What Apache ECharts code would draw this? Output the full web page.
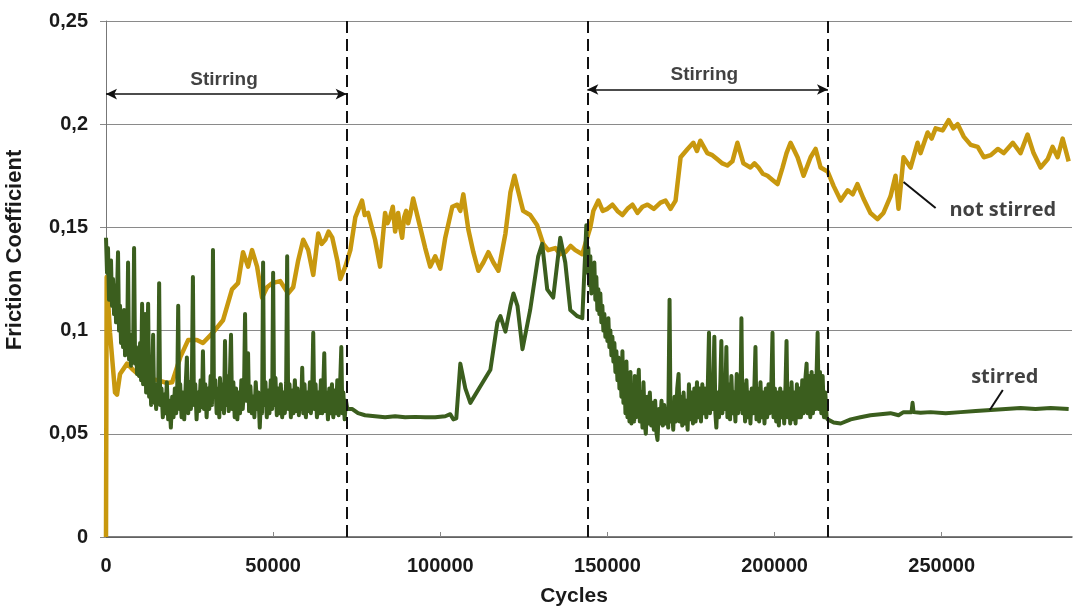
<!DOCTYPE html>
<html>
<head>
<meta charset="utf-8">
<script src="https://cdn.jsdelivr.net/npm/echarts@6/dist/echarts.min.js"></script>
<style>
html,body{margin:0;padding:0;background:#fff;}
#c{width:1074px;height:610px;}
</style>
</head>
<body>
<div id="c"></div>
<script>
// ---- data (cycles, friction coefficient) ----
const notStirred = [
[0,0],[200,0.126],[1200,0.099],[2700,0.070],[3300,0.069],[4200,0.079],[6300,0.084],[8100,0.081],
[10200,0.078],[12300,0.077],[15300,0.076],[18300,0.0746],[19800,0.075],[22200,0.087],[24600,0.0955],
[27200,0.0955],[29000,0.094],[32000,0.099],[35000,0.105],[37700,0.120],[39500,0.123],[41000,0.138],
[42500,0.131],[43700,0.139],[45200,0.131],[46700,0.116],[48200,0.121],[49700,0.123],[52100,0.124],
[54500,0.118],[56000,0.121],[57500,0.134],[59000,0.144],[60500,0.139],[62000,0.127],[63500,0.147],
[64500,0.142],[65600,0.144],[66600,0.148],[67700,0.145],[69200,0.134],[70100,0.125],[71600,0.131],[73100,0.139],[74600,0.155],
[75600,0.159],[76600,0.163],[77400,0.156],[78400,0.157],[80500,0.144],[82000,0.131],[83500,0.157],[84200,0.152],[85000,0.155],[85800,0.160],[86500,0.148],
[87400,0.157],[88000,0.150],[88600,0.145],[89200,0.155],[89800,0.158],[90400,0.152],[91000,0.156],[91900,0.164],[93400,0.154],[95500,0.140],
[97000,0.131],[98500,0.136],[100000,0.130],[101500,0.145],[103600,0.160],[105100,0.161],[106000,0.158],[106900,0.166],
[108400,0.149],[109900,0.138],[111400,0.129],[112900,0.133],[114400,0.138],[115900,0.133],[117400,0.129],
[119500,0.147],[121000,0.167],[122200,0.175],[123400,0.167],[124800,0.158],[126900,0.156],[129000,0.151],
[130800,0.142],[132300,0.139],[134400,0.140],[135900,0.137],[137400,0.138],[139000,0.141],[140400,0.139],[142500,0.137],[143400,0.142],
[144900,0.150],[145800,0.158],[147300,0.163],[148600,0.158],[150000,0.159],[151500,0.161],[153000,0.158],[154500,0.156],[156000,0.159],[157500,0.161],[159000,0.157],
[160500,0.160],[162000,0.161],[163900,0.159],[165900,0.162],[167400,0.163],[168900,0.159],[170400,0.163],[171900,0.184],[174000,0.188],[175700,0.191],
[176800,0.187],[177800,0.192],[179900,0.186],[181400,0.185],[182900,0.183],[184400,0.181],[185900,0.180],[187400,0.182],[188900,0.191],[190700,0.181],
[192800,0.179],[194000,0.181],[195200,0.179],[196500,0.176],[197900,0.175],[199400,0.173],[200900,0.171],[202400,0.179],[203600,0.186],[204800,0.191],[206900,0.184],
[208700,0.175],[210800,0.184],[212300,0.188],[213800,0.179],[215900,0.177],[217700,0.170],[219800,0.163],
[221900,0.168],[223400,0.166],[224800,0.171],[226600,0.164],[228700,0.157],[230800,0.154],[232600,0.157],[234700,0.165],
[236200,0.175],[237100,0.159],[238600,0.184],[240700,0.179],[242800,0.191],[243700,0.186],[245800,0.196],
[247000,0.193],[248200,0.198],[250300,0.197],[252100,0.202],[253500,0.198],[254800,0.200],[256600,0.194],[258700,0.190],[260800,0.189],
[262600,0.184],[264700,0.185],[266800,0.188],[268600,0.186],[271300,0.191],[273600,0.186],[275700,0.195],
[277500,0.186],[279600,0.179],[281700,0.183],[283200,0.189],[284700,0.184],[286200,0.193],[288000,0.182]
];
const stirred = [
[0,0.145],[300,0.128],[600,0.14],[900,0.115],[1200,0.13],[1500,0.134],[1800,0.112],[2100,0.125],[2400,0.108],
[2700,0.122],[3000,0.104],[3300,0.118],[3600,0.138],[3900,0.1],[4200,0.112],[4500,0.094],[4800,0.105],[5100,0.092],
[5400,0.11],[5700,0.088],[6000,0.1],[6300,0.09],[6600,0.133],[6900,0.086],[7200,0.098],[7500,0.083],[7800,0.097],
[8100,0.088],[8400,0.14],[8700,0.084],[9000,0.092],[9300,0.079],[9600,0.088],[9900,0.078],[10200,0.094],[10500,0.076],
[10800,0.113],[11100,0.074],[11400,0.085],[11700,0.108],[12000,0.07],[12300,0.082],[12600,0.113],[12900,0.068],
[13200,0.078],[13500,0.064],[13800,0.076],[14100,0.098],[14400,0.065],[14700,0.074],[15000,0.062],[15300,0.072],
[15600,0.066],[15900,0.123],[16200,0.064],
[16600,0.072],[17000,0.058],[17400,0.069],[17800,0.06],[18200,0.075],[18600,0.057],[19000,0.066],[19400,0.053],
[19800,0.068],[20200,0.058],[20600,0.072],[21000,0.06],[21300,0.07],[21600,0.112],[21900,0.062],[22200,0.074],
[22600,0.058],[23000,0.07],[23400,0.057],[23800,0.072],[24200,0.087],[24600,0.06],[25000,0.075],[25400,0.062],
[25700,0.078],[26000,0.126],[26300,0.064],[26700,0.074],[27100,0.057],[27500,0.07],[27900,0.061],[28300,0.076],
[28700,0.063],[29000,0.09],[29300,0.062],[29700,0.074],[30100,0.058],[30500,0.072],[30900,0.062],[31300,0.078],
[31700,0.064],[32000,0.139],[32300,0.068],[32700,0.076],[33100,0.06],[33500,0.072],[33900,0.058],[34100,0.077],
[34500,0.062],[34900,0.074],[35300,0.06],[35600,0.095],[35900,0.064],[36300,0.078],[36700,0.061],[37000,0.074],
[37400,0.098],[37700,0.062],[38100,0.075],[38500,0.058],[38900,0.072],[39300,0.057],[39700,0.07],[40100,0.06],
[40500,0.076],[40900,0.062],[41300,0.072],[41600,0.108],[41900,0.066],[42200,0.074],[42500,0.089],[42800,0.061],
[43200,0.073],[43600,0.06],[44000,0.068],[44400,0.058],[44800,0.075],[45200,0.062],[45600,0.07],[46000,0.053],
[46400,0.069],[46700,0.06],[47000,0.133],[47300,0.064],[47700,0.075],[48100,0.058],[48500,0.071],[48900,0.06],
[49300,0.076],[49700,0.062],[50000,0.128],[50300,0.064],[50700,0.077],[51100,0.059],[51500,0.072],[51900,0.06],
[52300,0.074],[52700,0.058],[53100,0.07],[53500,0.06],[53900,0.075],[54200,0.136],[54500,0.062],[54900,0.074],
[55300,0.058],[55700,0.071],[56100,0.06],[56500,0.076],[56900,0.061],[57300,0.072],[57700,0.059],[58000,0.07],
[58400,0.062],[58700,0.082],[59000,0.06],[59400,0.074],[59800,0.058],[60200,0.07],[60600,0.061],[61000,0.075],
[61300,0.06],[61700,0.072],[62000,0.099],[62300,0.062],[62700,0.074],[63100,0.058],[63500,0.07],[63900,0.06],
[64300,0.076],[64700,0.06],[65000,0.072],[65300,0.089],[65600,0.061],[66000,0.07],[66400,0.057],[66800,0.072],
[67200,0.06],[67600,0.074],[68000,0.058],[68400,0.071],[68800,0.06],[69200,0.076],[69600,0.059],[70000,0.072],
[70400,0.092],[70700,0.06],[71000,0.07],[71400,0.057],[71800,0.066],[72200,0.062],
[73700,0.062],[75400,0.060],[77500,0.059],[80500,0.0585],[83500,0.058],[86500,0.0585],[89500,0.058],
[92500,0.0582],[95500,0.058],[98500,0.058],[101500,0.0585],[103000,0.0595],[103900,0.057],[104800,0.0575],
[106000,0.084],[107500,0.072],[109000,0.065],[112000,0.073],[115000,0.081],[117100,0.104],[118000,0.107],
[119500,0.0995],[121000,0.112],[121900,0.118],[123100,0.112],[124600,0.091],[126900,0.110],[129300,0.136],
[130500,0.142],[132000,0.120],[133800,0.116],[135900,0.145],[137400,0.133],[138900,0.110],[141000,0.107],
[142500,0.106],[143400,0.139],[143700,0.151],
[144000,0.128],[144300,0.14],[144600,0.122],[144900,0.136],[145200,0.118],[145500,0.13],[145800,0.121],[146100,0.133],
[146400,0.115],[146700,0.126],[147000,0.11],[147300,0.12],[147600,0.108],[147900,0.118],[148200,0.104],[148500,0.112],
[148800,0.1],[149100,0.108],[149400,0.097],[149700,0.105],[150000,0.095],[150300,0.106],[150600,0.092],[150900,0.1],
[151200,0.088],[151500,0.097],[151800,0.085],[152100,0.094],[152400,0.08],[152700,0.09],[153000,0.076],[153300,0.087],
[153600,0.072],[153900,0.084],[154200,0.068],[154500,0.09],[154800,0.065],[155100,0.08],[155400,0.06],[155700,0.085],
[156000,0.058],[156300,0.075],[156600,0.056],[156900,0.08],[157200,0.055],[157600,0.07],[158000,0.056],[158200,0.078],
[158600,0.058],[159000,0.068],[159400,0.081],[159700,0.056],[160100,0.07],[160500,0.053],[160800,0.075],[161200,0.055],
[161500,0.05],[161900,0.068],[162300,0.055],[162700,0.07],[163100,0.054],[163500,0.065],[163900,0.052],[164300,0.066],
[164700,0.05],[165000,0.047],[165400,0.062],[165800,0.055],[166200,0.066],[166600,0.054],[167000,0.064],[167400,0.055],
[167800,0.062],[168200,0.053],[168600,0.115],[168900,0.056],[169300,0.065],[169700,0.052],[170100,0.068],[170500,0.056],
[170900,0.072],[171300,0.079],[171600,0.056],[172000,0.068],[172400,0.054],[172800,0.07],[173200,0.055],[173600,0.066],
[174000,0.052],[174400,0.074],[174800,0.057],[175200,0.07],[175600,0.055],[176000,0.072],[176400,0.056],[176800,0.075],
[177200,0.058],[177600,0.072],[178000,0.056],[178400,0.074],[178800,0.06],[179200,0.072],[179600,0.058],[180000,0.07],
[180400,0.099],[180700,0.06],[181100,0.072],[181500,0.062],[182000,0.097],[182300,0.06],[182600,0.053],[183000,0.07],
[183400,0.058],[183800,0.075],[184100,0.095],[184400,0.06],[184800,0.072],[185200,0.062],[185600,0.092],[185900,0.058],
[186300,0.074],[186700,0.057],[187100,0.078],[187500,0.06],[187900,0.07],[188300,0.056],[188700,0.079],[189100,0.06],
[189500,0.074],[189800,0.062],[190100,0.106],[190400,0.06],[190800,0.074],[191200,0.056],[191600,0.076],[192000,0.058],
[192400,0.07],[192800,0.055],[193200,0.072],[193600,0.06],[194000,0.074],[194300,0.092],[194600,0.057],[195000,0.072],
[195400,0.056],[195800,0.075],[196200,0.058],[196600,0.07],[197000,0.055],[197400,0.072],[197800,0.058],[198200,0.074],
[198600,0.06],[199000,0.07],[199400,0.099],[199700,0.058],[200100,0.072],[200500,0.056],[200900,0.07],[201300,0.054],
[201700,0.072],[202100,0.058],[202500,0.07],[202900,0.055],[203300,0.074],[203600,0.095],[203900,0.058],[204300,0.072],
[204700,0.055],[205100,0.075],[205500,0.057],[205900,0.07],[206300,0.055],[206700,0.074],[207100,0.058],[207500,0.072],
[207900,0.058],[208300,0.076],[208700,0.06],[209100,0.074],[209600,0.084],[209900,0.06],[210300,0.078],[210700,0.058],
[211100,0.08],[211500,0.06],[211900,0.078],[212300,0.062],[212600,0.08],[212900,0.099],[213200,0.062],[213600,0.08],
[214000,0.06],[214400,0.078],[214800,0.058],[215200,0.07],[215600,0.058],[215900,0.057],
[217700,0.0555],[219800,0.055],[222800,0.057],[225700,0.058],[228700,0.059],[231700,0.0595],[234700,0.060],
[237100,0.059],[238600,0.0605],[241000,0.0605],[241300,0.065],[241600,0.0605],[243700,0.0602],[246700,0.0605],
[251200,0.060],[255700,0.0605],[260200,0.061],[264700,0.0615],[269200,0.062],[273600,0.0625],[278100,0.062],
[282600,0.0625],[288000,0.062]
];
const phaseBoundaries = [72000, 144000, 216000];
const stirringSpans = [[0, 72000, 0.2146], [144000, 216000, 0.2168]];
const stirringLabels = [[35300, 0.2214, 'Stirring'], [179000, 0.2238, 'Stirring']];
const seriesLabels = [[268300, 0.1584, 'not stirred'], [268900, 0.0775, 'stirred']];
const leaderLines = [[[238600, 0.1720], [248200, 0.1594]], [[268300, 0.0712], [264400, 0.0615]]];
const xTicks = { min: 0, max: 289000, interval: 50000 };
const yTicks = { min: 0, max: 0.25, interval: 0.05 };

const FONT = '"Liberation Sans", Arial, sans-serif';
const chart = echarts.init(document.getElementById('c'), null, { renderer: 'canvas' });
chart.setOption({
  animation: false,
  backgroundColor: '#ffffff',
  grid: { left: 106, right: 2, top: 21, bottom: 73, containLabel: false, outerBoundsMode: 'none' },
  xAxis: {
    type: 'value', min: xTicks.min, max: xTicks.max, interval: xTicks.interval,
    name: 'Cycles', nameLocation: 'middle', nameGap: 49,
    nameTextStyle: { fontFamily: FONT, fontWeight: 'bold', fontSize: 21, color: '#1a1a1a', padding: [0, 30, 0, 0] },
    axisLine: { show: true, lineStyle: { color: '#555', width: 1.5 } },
    axisTick: { show: true, inside: true, length: 5, lineStyle: { color: '#888' } },
    axisLabel: { showMaxLabel: false, margin: 19, fontFamily: FONT, fontWeight: 'bold', fontSize: 20, color: '#1a1a1a',
      formatter: v => String(v) },
    splitLine: { show: false }
  },
  yAxis: {
    type: 'value', min: yTicks.min, max: yTicks.max, interval: yTicks.interval,
    name: 'Friction Coefficient', nameLocation: 'middle', nameGap: 80, nameRotate: 90,
    nameTextStyle: { fontFamily: FONT, fontWeight: 'bold', fontSize: 22, color: '#1a1a1a', padding: [0, 0, 0, 58] },
    axisLine: { show: true, lineStyle: { color: '#777', width: 1 } },
    axisTick: { show: true, inside: false, length: 6, lineStyle: { color: '#888' } },
    axisLabel: { margin: 18, fontFamily: FONT, fontWeight: 'bold', fontSize: 20, color: '#1a1a1a',
      formatter: v => String(+v.toFixed(2)).replace('.', ',') },
    splitLine: { show: true, lineStyle: { color: '#8a8a8a', width: 1 } }
  },
  series: [
    {
      name: 'not stirred', type: 'line', data: notStirred, showSymbol: false, symbol: 'none',
      lineStyle: { color: '#C8980E', width: 4.5, join: 'round' }, z: 2,
      markLine: {
        silent: true, symbol: 'none', label: { show: false },
        lineStyle: { color: '#111', width: 2, type: [12, 6] },
        data: phaseBoundaries.map(x => ({ xAxis: x }))
      }
    },
    {
      name: 'stirred', type: 'line', data: stirred, showSymbol: false, symbol: 'none',
      lineStyle: { color: '#3B5E1E', width: 4, join: 'round' }, z: 3
    },
    {
      name: 'arrows', type: 'line', data: [], z: 5,
      markLine: {
        silent: true, symbol: ['arrow', 'arrow'], symbolSize: [8, 11], label: { show: false },
        lineStyle: { color: '#111', width: 1.5, type: 'solid' },
        data: stirringSpans.map(s => [{ coord: [s[0], s[2]] }, { coord: [s[1], s[2]] }])
      }
    },
    {
      name: 'leaders', type: 'line', data: [], z: 5,
      markLine: {
        silent: true, symbol: 'none', label: { show: false },
        lineStyle: { color: '#111', width: 2, type: 'solid' },
        data: leaderLines.map(l => [{ coord: l[0] }, { coord: l[1] }])
      }
    },
    {
      name: 'stirringText', type: 'scatter', symbolSize: 0, z: 6, silent: true,
      data: stirringLabels,
      label: { show: true, position: 'inside', formatter: p => p.data[2],
        fontFamily: FONT, fontWeight: 'bold', fontSize: 19, color: '#111' }
    },
    {
      name: 'seriesText', type: 'scatter', symbolSize: 0, z: 6, silent: true,
      data: seriesLabels,
      label: { show: true, position: 'inside', formatter: p => p.data[2],
        fontFamily: '"Open Sans", "Noto Sans", sans-serif', fontWeight: 'bold', fontSize: 20, color: '#111' }
    }
  ]
});
</script>
</body>
</html>
